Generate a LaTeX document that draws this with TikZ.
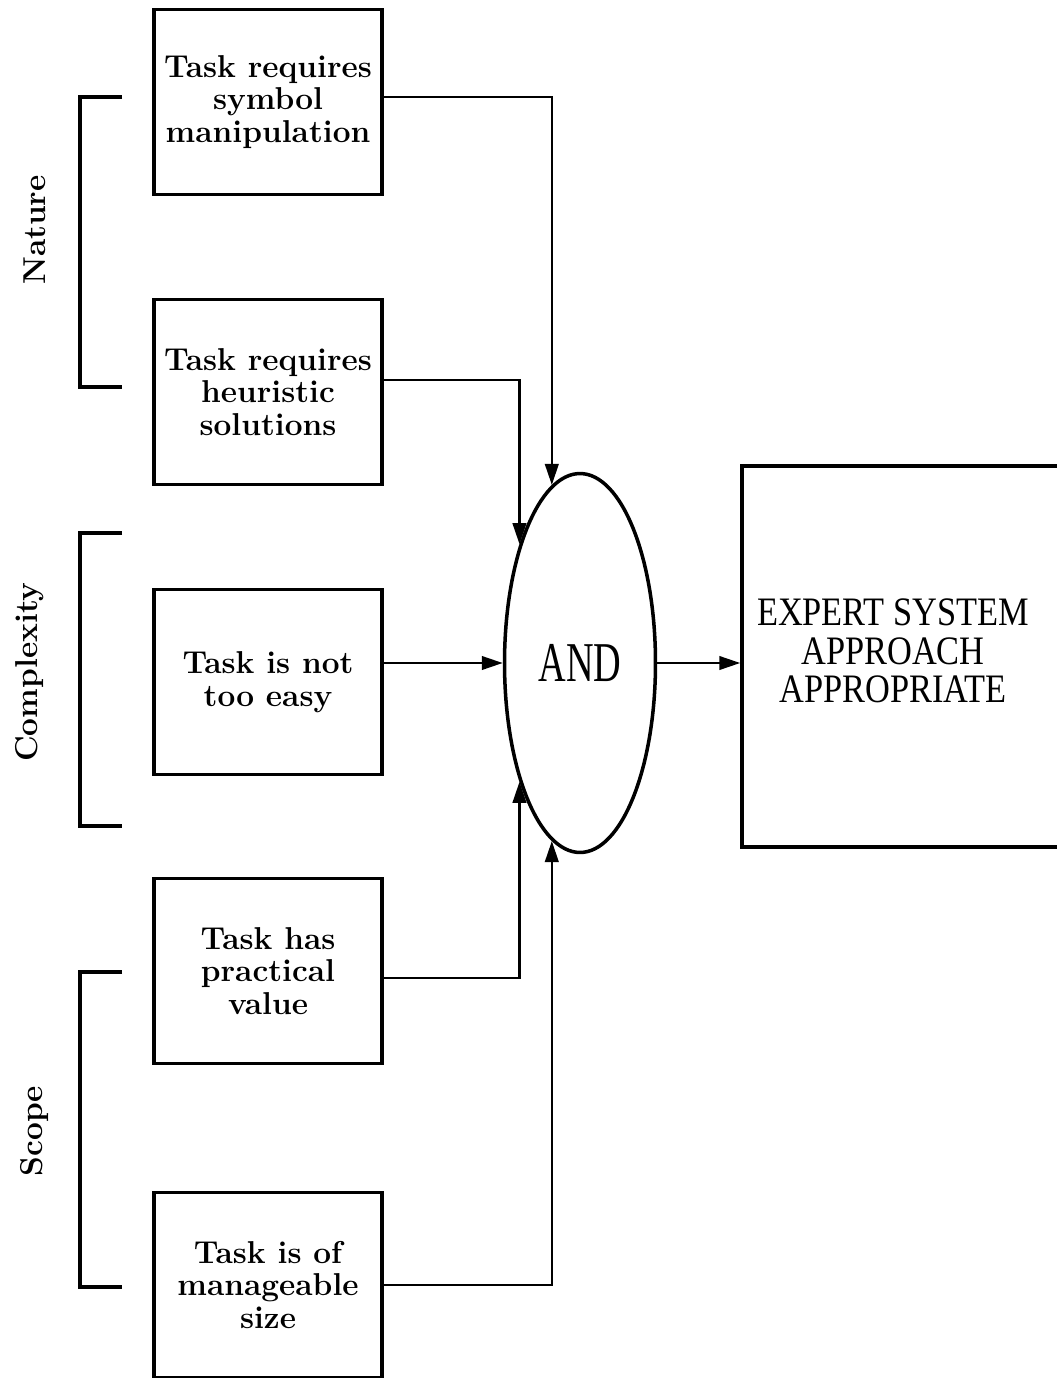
\documentclass[tikz,border=0pt]{standalone}
\usepackage{fontspec}
\usetikzlibrary{arrows.meta, shapes.geometric}
\newfontfamily\andfont[FakeStretch=0.68]{Liberation Serif}
\newfontfamily\resultfont[FakeStretch=0.85]{Liberation Serif}
\tikzset{
  taskbox/.style={draw, line width=2pt, minimum width=4.56cm, minimum height=3.7cm,
    inner sep=0pt, align=center, font=\fontsize{18}{18.5}\selectfont\bfseries},
  andnode/.style={draw, ellipse, line width=2pt, minimum width=3.02cm, minimum height=7.58cm,
    inner sep=0pt, font=\fontsize{32}{34}\selectfont\andfont},
  resultbox/.style={draw, line width=2pt, minimum width=7.16cm, minimum height=7.62cm},
  resulttext/.style={align=center, font=\fontsize{23}{22}\selectfont\resultfont},
  group/.style={rotate=90, font=\fontsize{18}{18.5}\selectfont\bfseries},
  bracket/.style={line width=2pt},
  feed/.style={line width=1.4pt, -{Triangle[length=0.42cm, width=0.27cm]}}
}

\begin{document}
\begin{tikzpicture}[x=0.02cm,y=-0.02cm]
\useasboundingbox (0,0) rectangle (1057,1378);
\node[taskbox] (symb) at (268,102)    {Task requires\\symbol\\manipulation};
\node[taskbox] (heur) at (268,392)    {Task requires\\heuristic\\solutions};
\node[taskbox] (easy) at (268,682)    {Task is not\\too easy};
\node[taskbox] (prac) at (268,971)    {Task has\\practical\\value};
\node[taskbox] (size) at (268,1285)   {Task is of\\manageable\\size};
\node[andnode] (and) at (580,663)     {AND};
\node[resultbox] (res) at (921,656.5) {};
\node[resulttext] (restext) at (893,651) {EXPERT SYSTEM\\APPROACH\\APPROPRIATE};
\node[group] (nature) at (35,230)     {Nature};
\node[group] (compl) at (30,672)      {Complexity};
\node[group] (scope) at (35,1131)     {Scope};
\draw[bracket] (122,97) -- (80,97) -- (80,387) -- (122,387);
\draw[bracket] (122,533) -- (80,533) -- (80,826) -- (122,826);
\draw[bracket] (122,972) -- (80,972) -- (80,1287) -- (122,1287);
\draw[feed] ([yshift=0.1cm]symb.east) -| (and.99);
\draw[feed] ([yshift=0.24cm]heur.east) -| (and.117);
\draw[feed] (and.west -| easy.east) -- (and.west);
\draw[feed] ([yshift=-0.14cm]prac.east) -| (and.243);
\draw[feed] (size.east) -| (and.261);
\draw[feed] (and.east) -- (and.east -| res.west);
\end{tikzpicture}
\end{document}
